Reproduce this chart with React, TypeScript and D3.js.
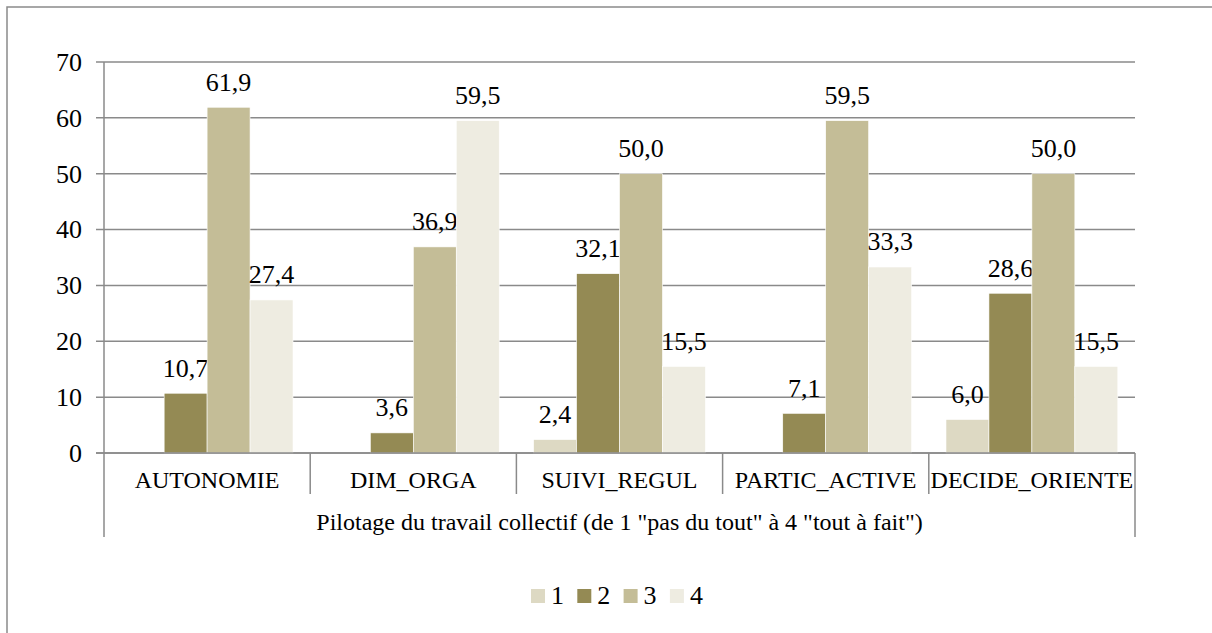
import React from 'react';
import * as d3 from 'd3';

// categories and series values
const categories = ['AUTONOMIE', 'DIM_ORGA', 'SUIVI_REGUL', 'PARTIC_ACTIVE', 'DECIDE_ORIENTE'];
const seriesNames = ['1', '2', '3', '4'];
const serie1 = [null, null, 2.4, null, 6.0];
const serie2 = [10.7, 3.6, 32.1, 7.1, 28.6];
const serie3 = [61.9, 36.9, 50.0, 59.5, 50.0];
const serie4 = [27.4, 59.5, 15.5, 33.3, 15.5];
const yTicks = [0, 10, 20, 30, 40, 50, 60, 70];
const groupLabel = 'Pilotage du travail collectif (de 1 "pas du tout" à 4 "tout à fait")';

const colors = ['#DDD9C3', '#948A54', '#C4BD97', '#EEECE1'];
const font = "'Liberation Serif', 'Times New Roman', serif";
const lineColor = '#8a8a8a';

const W = 1212;
const H = 633;
const left = 104;
const right = 1135;
const top = 62;
const bottom = 453;

export default function App() {
  const series = [serie1, serie2, serie3, serie4];

  const x = d3.scaleBand<string>().domain(categories).range([left, right]).padding(0);
  const xInner = d3.scaleBand<string>()
    .domain(seriesNames)
    .range([0, x.bandwidth()])
    .paddingInner(0)
    .paddingOuter(0.4);
  const y = d3.scaleLinear().domain([0, 70]).range([bottom, top]);

  const fmt = (v: number) => v.toFixed(1).replace('.', ',');

  // legend layout
  const legendX = 531;
  const legendStep = 46.3;
  const legendY = 589;

  return (
    <svg
      width={W}
      height={H}
      style={{ position: 'absolute', left: 0, top: 0, background: '#fff', fontFamily: font, fontSize: '24px' }}
    >
      <rect x={7} y={7} width={W + 50} height={H + 50} fill="#fff" stroke={lineColor} strokeWidth={1.5} />

      {/* gridlines + y ticks */}
      {yTicks.map(t => (
        <g key={t}>
          <line x1={96} x2={right} y1={y(t)} y2={y(t)} stroke={lineColor} strokeWidth={1.5} />
          <text x={82} y={y(t)} dy="0.34em" textAnchor="end" fill="#000" style={{ fontSize: '26px' }}>{t}</text>
        </g>
      ))}

      {/* y axis */}
      <line x1={left} x2={left} y1={top} y2={537} stroke={lineColor} strokeWidth={1.5} />
      <line x1={right} x2={right} y1={bottom} y2={537} stroke={lineColor} strokeWidth={1.5} />
      {categories.slice(1).map(c => (
        <line key={c} x1={x(c)} x2={x(c)} y1={bottom} y2={494} stroke={lineColor} strokeWidth={1.5} />
      ))}

      {/* bars */}
      {series.map((vals, si) => (
        <g key={si}>
          {vals.map((v, ci) => {
            if (v == null) return null;
            const bx = (x(categories[ci]) ?? 0) + (xInner(seriesNames[si]) ?? 0);
            return (
              <g key={ci}>
                <rect
                  x={bx}
                  y={y(v)}
                  width={xInner.bandwidth()}
                  height={bottom - y(v)}
                  fill={colors[si]}
                  stroke="#fff"
                  strokeWidth={0.6}
                />
                <text
                  x={bx + xInner.bandwidth() / 2}
                  y={y(v) - 16.5}
                  textAnchor="middle"
                  fill="#000"
                  style={{ fontSize: '26px' }}
                >
                  {fmt(v)}
                </text>
              </g>
            );
          })}
        </g>
      ))}

      {/* redraw baseline over bars */}
      <line x1={96} x2={right} y1={bottom} y2={bottom} stroke={lineColor} strokeWidth={1.5} />

      {/* category labels */}
      {categories.map(c => (
        <text key={c} x={(x(c) ?? 0) + x.bandwidth() / 2} y={488} textAnchor="middle" fill="#000">
          {c}
        </text>
      ))}
      <text x={(left + right) / 2} y={530} textAnchor="middle" fill="#000">{groupLabel}</text>

      {/* legend */}
      {seriesNames.map((s, i) => (
        <g key={s} transform={`translate(${legendX + i * legendStep},${legendY})`}>
          <rect width={14} height={14} fill={colors[i]} />
          <text x={20} y={15} fill="#000" style={{ fontSize: '26px' }}>{s}</text>
        </g>
      ))}
    </svg>
  );
}
